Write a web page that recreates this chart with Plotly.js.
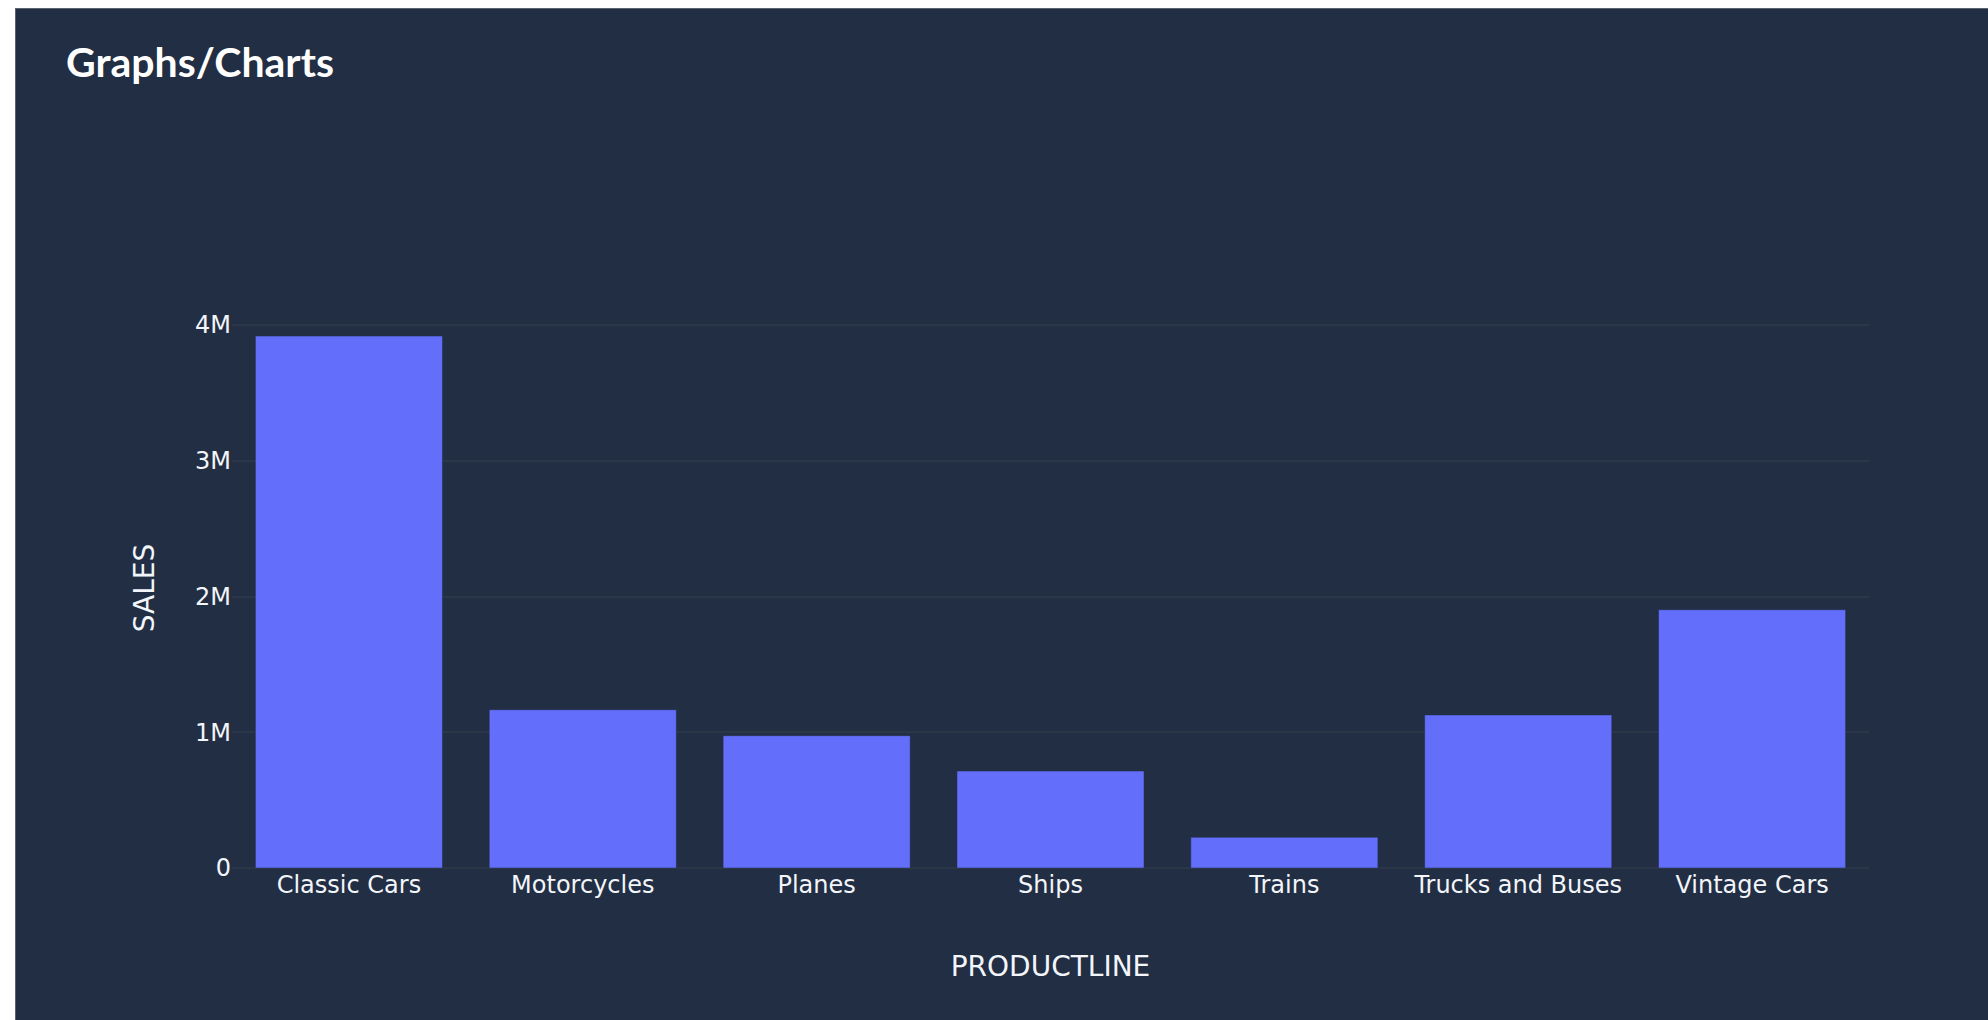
<!DOCTYPE html>
<html>
<head>
<meta charset="utf-8">
<script src="https://cdn.plot.ly/plotly-3.0.1.min.js"></script>
<style>
  html, body { margin: 0; padding: 0; background: #ffffff; width: 1988px; height: 1020px; overflow: hidden; }
  #panel { position: absolute; left: 15px; top: 8px; width: 1980px; height: 1020px; background: #222e43; border-left: 1px solid #5b6372; border-top: 1px solid #5b6372; }
  #heading { position: absolute; left: 66px; top: 38px; font-family: Lato, "DejaVu Sans", sans-serif; font-weight: 700; font-size: 41px; color: #ffffff; line-height: 48px; margin: 0; }
  #chart { position: absolute; left: 16px; top: 9px; width: 1972px; height: 1011px; }
</style>
</head>
<body>
<div id="panel"></div>
<div id="chart"></div>
<h1 id="heading">Graphs/Charts</h1>
<script>
const categories = ["Classic Cars", "Motorcycles", "Planes", "Ships", "Trains", "Trucks and Buses", "Vintage Cars"];
const sales = [3919615.66, 1166388.34, 975003.57, 714437.13, 226243.47, 1127789.84, 1903150.84];
const xTitle = "PRODUCTLINE";
const yTitle = "SALES";

const bg = "#222e43";
const grid = "#2b3749";
const fontFamily = "'DejaVu Sans', Verdana, sans-serif";
const textColor = "#f2f5fa";

const data = [{
  type: "bar",
  x: categories,
  y: sales,
  marker: { color: "#636efa", line: { color: bg, width: 0.5 } },
  hoverinfo: "x+y"
}];

const layout = {
  width: 1972,
  height: 1011,
  paper_bgcolor: bg,
  plot_bgcolor: bg,
  margin: { l: 216, r: 119, t: 299, b: 152, pad: 0 },
  font: { family: fontFamily, color: textColor, size: 24 },
  showlegend: false,
  bargap: 0.2,
  xaxis: {
    title: { text: xTitle, font: { size: 28, family: fontFamily, color: textColor }, standoff: 58 },
    tickfont: { size: 24, family: fontFamily, color: textColor },
    showgrid: false,
    zeroline: false,
    ticks: "",
    automargin: false
  },
  yaxis: {
    title: { text: yTitle, font: { size: 28, family: fontFamily, color: textColor }, standoff: 32 },
    tickfont: { size: 24, family: fontFamily, color: textColor },
    gridcolor: grid,
    gridwidth: 2,
    zeroline: true,
    zerolinecolor: grid,
    zerolinewidth: 2,
    tickvals: [0, 1000000, 2000000, 3000000, 4000000],
    ticktext: ["0", "1M", "2M", "3M", "4M"],
    ticks: "",
    automargin: false
  }
};

Plotly.newPlot("chart", data, layout, { displayModeBar: false, staticPlot: false });
</script>
</body>
</html>
